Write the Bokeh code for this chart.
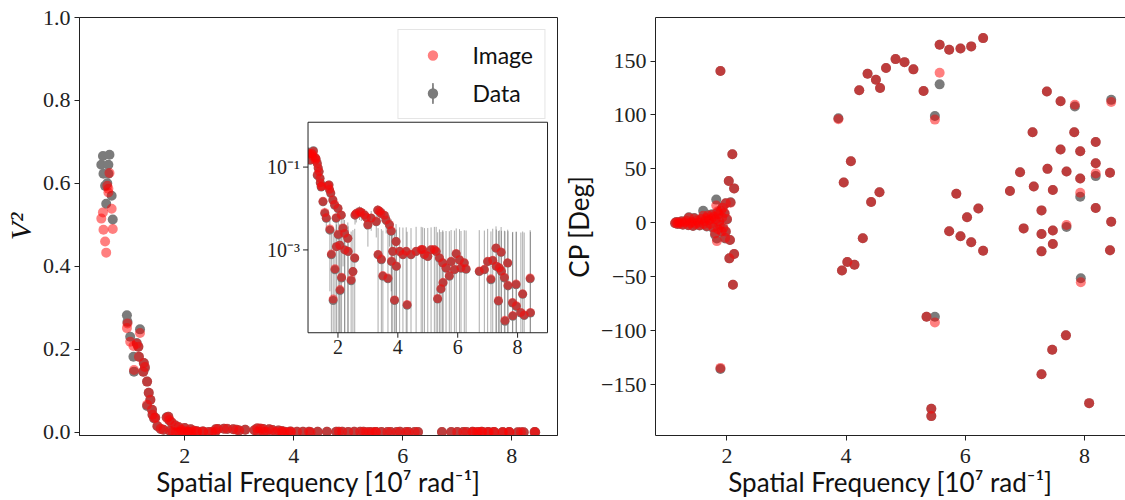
import numpy as np
from bokeh.plotting import figure
from bokeh.models import (Range1d, LogScale, LinearAxis, FixedTicker, PrintfTickFormatter,
                          Legend, LegendItem, ColumnDataSource)
from bokeh.layouts import row
from bokeh.embed import file_html
from bokeh.resources import INLINE
from bokeh.core.properties import value

# ---------------- data: squared visibilities ----------------
vis_x = [
    0.50, 0.62, 0.47, 0.60, 0.51, 0.60, 0.54, 0.66, 0.56, 0.68, 0.58,
    0.94, 0.95, 1.00, 1.06, 1.07, 1.18, 1.15, 1.12, 1.16, 1.25,
    1.27, 1.24, 1.31, 1.34, 1.37, 1.31, 1.40, 1.41, 1.46,
    1.44, 1.50, 1.56, 1.61, 1.67, 1.70, 1.72, 1.73, 1.76, 1.78,
    1.83, 1.84, 1.89, 1.90, 1.94, 1.95, 2.00, 2.01, 2.06, 2.07,
    2.11, 2.12, 2.17, 2.22, 2.23, 2.33, 2.34, 2.44, 2.50, 2.56,
    2.57, 2.61, 2.72, 2.78, 2.89, 2.95, 3.00, 3.11, 3.28, 3.33,
    3.34, 3.39, 3.44, 3.45, 3.50, 3.55, 3.61, 3.67, 3.72, 3.78,
    3.79, 3.83, 3.89, 3.94, 3.95, 4.06, 4.17, 4.28, 4.31, 4.44,
    4.61, 4.78, 4.83, 4.89, 5.00, 5.11, 5.22, 5.28, 5.33, 5.39,
    5.44, 5.50, 5.51, 5.61, 5.72, 5.78, 5.89, 5.95, 6.06, 6.11,
    6.22, 6.28, 6.72, 6.89, 7.00, 7.11, 7.17, 7.28, 7.29, 7.36,
    7.39, 7.45, 7.46, 7.56, 7.58, 7.67, 7.68, 7.83, 7.84, 7.95,
    7.96, 8.11, 8.17, 8.22, 8.42, 8.43,
]
vis_data = [
    0.666, 0.669, 0.645, 0.645, 0.623, 0.623, 0.594, 0.570, 0.551, 0.513, 0.600,
    0.282, 0.266, 0.230, 0.182, 0.146, 0.248, 0.206, 0.215, 0.182, 0.167,
    0.155, 0.146, 0.122, 0.095, 0.078, 0.063, 0.054, 0.042, 0.035,
    0.033, 0.0145, 0.0076, 0.0058, 0.036, 0.037, 0.028, 0.003, 0.023, 0.00076,
    0.016, 6e-5, 0.012, 0.00033, 0.0058, 0.0012, 0.010, 0.0023, 0.0013, 0.000104,
    0.0069, 0.00021, 0.0033, 0.0025, 0.001, 0.0019, 0.00091, 0.00018, 0.0003, 0.00063,
    0.0069, 0.0075, 0.0083, 0.0079, 0.0069, 0.006, 0.004, 0.0058, 0.0048, 0.0091,
    0.00076, 0.0085, 0.0076, 0.00058, 0.00023, 0.0068, 0.0052, 0.0002, 0.004, 0.0028,
    0.00052, 0.00091, 6e-5, 0.0016, 0.0004, 0.00091, 0.00076, 0.00091, 4.6e-5, 0.00076,
    0.00091, 0.001, 0.001, 0.00076, 0.00069, 0.001, 0.001, 0.00091, 6.5e-5, 0.00063,
    0.000113, 0.00048, 0.00016, 0.00036, 0.00023, 0.00052, 0.00033, 0.0008, 0.00057, 0.00036,
    0.00048, 0.00034, 0.0003, 0.00033, 0.00052, 0.00019, 0.00055, 0.0011, 0.0004, 5.8e-5,
    0.00036, 0.00087, 0.0003, 0.00021, 1.9e-5, 0.00048, 0.000135, 5.2e-5, 2.5e-5, 0.000144,
    4.3e-5, 3e-5, 8.5e-5, 2.6e-5, 0.0002, 3e-5,
]
vis_image = [
    0.530, 0.625, 0.515, 0.587, 0.488, 0.578, 0.460, 0.539, 0.433, 0.490, 0.594,
    0.251, 0.262, 0.218, 0.208, 0.150, 0.239, 0.206, 0.213, 0.182, 0.167,
    0.157, 0.146, 0.122, 0.095, 0.078, 0.066, 0.054, 0.042, 0.035,
    0.034, 0.0150, 0.0080, 0.0060, 0.035, 0.037, 0.029, 0.0032, 0.024, 0.0008,
    0.016, 6.5e-5, 0.0125, 0.00035, 0.0060, 0.0012, 0.0102, 0.0024, 0.0013, 0.00011,
    0.0070, 0.00022, 0.0034, 0.0025, 0.0010, 0.0019, 0.00093, 0.00019, 0.0003, 0.00065,
    0.0070, 0.0076, 0.0084, 0.0080, 0.0070, 0.0061, 0.0041, 0.0059, 0.0049, 0.0092,
    0.00078, 0.0086, 0.0077, 0.0006, 0.00024, 0.0069, 0.0053, 0.00021, 0.0041, 0.0029,
    0.00054, 0.00093, 6.2e-5, 0.0016, 0.00041, 0.00093, 0.00078, 0.00093, 4.8e-5, 0.00078,
    0.00093, 0.00102, 0.00102, 0.00078, 0.0007, 0.00102, 0.00102, 0.00093, 6.7e-5, 0.00065,
    0.000116, 0.00049, 0.000165, 0.00037, 0.00024, 0.00053, 0.00034, 0.00082, 0.00058, 0.00037,
    0.00049, 0.00035, 0.00031, 0.00034, 0.00053, 0.0002, 0.00056, 0.00112, 0.00041, 6e-5,
    0.00037, 0.00089, 0.00031, 0.00022, 2e-5, 0.00049, 0.00014, 5.4e-5, 2.6e-5, 0.00015,
    4.5e-5, 3.1e-5, 8.7e-5, 2.7e-5, 0.00021, 3.1e-5,
]
vis_err = [
    0.006, 0.006, 0.005, 0.006, 0.005, 0.005, 0.006, 0.005, 0.005, 0.004, 0.005,
    0.004, 0.004, 0.004, 0.0035, 0.0035, 0.004, 0.0035, 0.0035, 0.0035, 0.0035,
    0.0033, 0.0033, 0.0032, 0.0032, 0.0031, 0.0031, 0.0031, 0.003, 0.003,
    0.0030, 0.0031, 0.0029, 0.0030, 0.0032, 0.0031, 0.0030, 0.0029, 0.0031, 0.0028,
    0.0030, 0.0029, 0.0031, 0.0028, 0.0030, 0.0029, 0.0031, 0.0028, 0.0029, 0.0028,
    0.0030, 0.0028, 0.0029, 0.0028, 0.0027, 0.0027, 0.0028, 0.0026, 0.0027, 0.0026,
    0.0028, 0.0029, 0.0030, 0.0029, 0.0028, 0.0029, 0.0028, 0.0029, 0.0028, 0.0030,
    0.0026, 0.0029, 0.0028, 0.0026, 0.0027, 0.0028, 0.0027, 0.0026, 0.0028, 0.0027,
    0.0026, 0.0027, 0.0027, 0.0026, 0.0027, 0.0026, 0.0027, 0.0026, 0.0027, 0.0026,
    0.0027, 0.0026, 0.0025, 0.0026, 0.0027, 0.0025, 0.0026, 0.0027, 0.0026, 0.0025,
    0.0026, 0.0025, 0.0026, 0.0025, 0.0026, 0.0025, 0.0026, 0.0025, 0.0026, 0.0025,
    0.0025, 0.0026, 0.0027, 0.0026, 0.0027, 0.0026, 0.0027, 0.0026, 0.0027, 0.0028,
    0.0026, 0.0027, 0.0026, 0.0027, 0.0028, 0.0026, 0.0027, 0.0026, 0.0027, 0.0026,
    0.0027, 0.0026, 0.0027, 0.0026, 0.0028, 0.0027,
]

# ---------------- data: closure phases ----------------
cp_x = [
    1.13, 1.15, 1.17, 1.19, 1.21, 1.24, 1.26, 1.29, 1.32, 1.35,
    1.36, 1.38, 1.41, 1.43, 1.45, 1.47, 1.50, 1.52, 1.54, 1.57,
    1.60, 1.61, 1.63, 1.65, 1.66, 1.68, 1.70, 1.72, 1.74, 1.75,
    1.77, 1.78, 1.80, 1.81, 1.82, 1.83, 1.84, 1.85, 1.86, 1.87,
    1.88, 1.89, 1.89, 1.90, 1.91, 1.92, 1.93, 1.94, 1.96, 1.97,
    1.98, 1.98, 2.00, 2.03, 2.04, 2.05, 2.06, 2.09, 2.10, 2.12,
    2.12, 3.87, 3.93, 3.96, 4.02, 4.08, 4.14, 4.22, 4.28, 4.36,
    4.42, 4.50, 4.56, 4.57, 4.67, 4.83, 4.98, 5.13, 5.30, 5.35,
    5.43, 5.43, 5.49, 5.49, 5.57, 5.57, 5.73, 5.73, 5.85, 5.92,
    5.92, 6.03, 6.10, 6.10, 6.22, 6.30, 6.30, 6.75, 6.92, 6.98,
    7.13, 7.15, 7.28, 7.28, 7.28, 7.28, 7.37, 7.38, 7.46, 7.47,
    7.47, 7.47, 7.60, 7.60, 7.69, 7.70, 7.70, 7.83, 7.84, 7.93,
    7.93, 7.93, 7.94, 8.08, 8.19, 8.19, 8.19, 8.19, 8.43, 8.43,
    8.45, 8.45,
]
cp_data = [
    -0.5, 0.8, -1.2, 0.3, -0.8, 1.5, -1.8, 0.4, 2.0, -2.2,
    5.1, -0.6, 1.0, -3.0, 4.5, -1.2, 2.5, 0.5, -2.5, 3.8,
    11.2, -1.5, 1.0, 5.0, -3.5, 7.5, 2.0, -2.0, 3.2, 8.0,
    -5.0, 4.0, -11.0, 2.5, 21.5, -14.5, 9.0, -7.0, 6.0, 0.5,
    -3.0, 140.7, -135.6, 12.0, -9.0, 4.0, 15.0, -5.5, 8.5, -14.5,
    18.0, -8.3, 3.0, 38.7, -33.0, -16.0, 19.0, 63.6, -57.5, 31.9,
    -28.9, 96.9, -44.3, 37.4, -36.3, 57.0, -39.0, 122.9, -14.3, 138.2,
    19.2, 132.7, 28.4, 125.0, 143.5, 151.8, 149.0, 142.3, 122.2, -87.1,
    -172.5, -179.3, -87.1, 99.1, 128.4, 165.1, 160.5, -7.9, 26.9, 161.7,
    -12.5, 5.1, 163.6, -18.0, 13.3, 171.3, -26.0, 29.4, 46.9, -5.2,
    84.0, 33.6, 11.5, -10.4, -26.5, -140.5, 121.8, 50.0, -117.7, 30.4,
    -7.2, -19.6, 112.7, 67.9, -104.4, 47.6, -3.9, 84.0, 107.8, 66.3,
    41.1, 24.2, -51.4, -167.3, 75.0, 55.2, 43.3, 13.7, 46.4, -25.5,
    114.0, 1.0,
]
cp_image = [
    -0.3, 0.6, -1.0, 0.5, -0.6, 1.2, -1.5, 0.2, 1.8, -2.0,
    4.6, -0.4, 0.8, -2.7, 4.0, -1.0, 2.2, 0.3, -2.2, 3.4,
    6.5, -1.1, 1.4, 4.2, -3.0, 6.8, 2.5, -1.2, 4.0, 7.2,
    -4.2, 5.5, -10.0, 3.0, 16.0, -17.0, 10.5, -6.0, 8.0, 1.5,
    -2.0, 140.7, -134.6, 11.0, -8.0, 5.0, 14.0, -4.5, 9.0, -14.0,
    18.0, -8.0, 3.5, 38.7, -33.0, -16.0, 18.5, 63.6, -57.5, 31.9,
    -28.9, 96.0, -44.3, 37.4, -36.3, 57.0, -39.0, 122.9, -14.3, 138.2,
    19.2, 132.7, 28.4, 125.0, 143.5, 151.8, 149.0, 142.3, 122.2, -87.1,
    -172.5, -179.3, -92.4, 95.7, 139.2, 165.1, 160.5, -7.9, 26.9, 161.7,
    -12.5, 5.1, 163.6, -18.0, 13.3, 171.3, -26.0, 29.4, 46.9, -5.2,
    84.0, 33.6, 11.5, -10.4, -26.5, -140.5, 121.8, 50.0, -117.7, 30.4,
    -7.2, -19.6, 112.7, 67.9, -104.4, 47.6, -2.0, 84.0, 109.5, 66.3,
    41.1, 27.8, -55.1, -167.3, 75.0, 55.2, 45.8, 13.7, 46.4, -25.5,
    112.0, 1.0,
]

assert len(vis_x) == len(vis_data) == len(vis_image) == len(vis_err)
assert len(cp_x) == len(cp_data) == len(cp_image)

# ticks / labels
x_ticks = [2, 4, 6, 8]
v2_ticks = [0.0, 0.2, 0.4, 0.6, 0.8, 1.0]
cp_ticks = [-150, -100, -50, 0, 50, 100, 150]
inset_x_ticks = [2, 4, 6, 8]
inset_y_ticks = [1e-1, 1e-3]
inset_y_labels = ["10\u207b\u00b9", "10\u207b\u00b3"]
x_label = "Spatial Frequency [10\u2077 rad\u207b\u00b9]"

# ---------------- style ----------------
SERIF = "Liberation Serif, serif"
SANS = "Lato"
RED = "#ff0000"
GRAY = "#7b7b7b"
INK = "#222222"
H = 500
LW, RW = 560, 565
TOP, BOT = 17, 64
L_LEFT, L_RIGHT = 78, 3
R_LEFT, R_RIGHT = 93, 0


def style_axis(ax):
    ax.axis_line_color = INK
    ax.axis_line_width = 1
    ax.major_tick_line_color = INK
    ax.major_tick_out = 5
    ax.major_tick_in = 0
    ax.minor_tick_line_color = None
    ax.major_label_text_font = SERIF
    ax.major_label_text_font_size = "22px"
    ax.major_label_text_color = INK
    ax.major_label_standoff = 4
    ax.axis_label_text_font = SANS
    ax.axis_label_text_font_size = "26px"
    ax.axis_label_text_font_style = "normal"
    ax.axis_label_text_color = "#111111"
    ax.axis_label_standoff = 3


def base_fig(width, xr, yr, left, right):
    p = figure(width=width, height=H, x_range=Range1d(*xr), y_range=Range1d(*yr),
               output_backend="svg", toolbar_location=None,
               min_border_left=left, min_border_right=right,
               min_border_top=TOP, min_border_bottom=BOT)
    p.xgrid.visible = False
    p.ygrid.visible = False
    p.background_fill_color = "white"
    p.border_fill_color = "white"
    style_axis(p.xaxis[0])
    style_axis(p.yaxis[0])
    p.xaxis.ticker = FixedTicker(ticks=x_ticks)
    p.xaxis.axis_label = x_label
    p.xaxis.major_label_standoff = 8
    p.xaxis.axis_label_standoff = 0
    return p


# ---------------- left panel: V^2 ----------------
p1 = base_fig(LW, (0.07, 8.84), (-0.008, 1.0), L_LEFT, L_RIGHT)
p1.outline_line_color = INK
p1.outline_line_width = 1
p1.yaxis.ticker = FixedTicker(ticks=v2_ticks)
p1.yaxis.formatter = PrintfTickFormatter(format="%.1f")
p1.yaxis.axis_label = "V\u00b2"
p1.yaxis.axis_label_text_font = SERIF
p1.yaxis.axis_label_text_font_style = "italic"
p1.yaxis.axis_label_text_font_size = "30px"

vx = np.array(vis_x)
vd = np.array(vis_data)
vm = np.array(vis_image)
ve = np.array(vis_err)

src = ColumnDataSource(dict(x=vx, d=vd, m=vm, lo=vd - ve, hi=vd + ve))
p1.segment(x0="x", y0="lo", x1="x", y1="hi", source=src, line_color=GRAY, line_alpha=0.5)
gray_r = p1.scatter("x", "d", source=src, size=10, fill_color=GRAY, line_color=None)
red_r = p1.scatter("x", "m", source=src, size=10, fill_color=RED, fill_alpha=0.5, line_color=None)

# ---- inset (log scale) drawn on extra ranges of the left figure ----
FL, FR, FT, FB = L_LEFT, LW - L_RIGHT, TOP, H - BOT      # frame in px
IL, IR, IT, IB = 307, 547, 122, 333                      # inset box in px
INSET_XLIM = (1.0, 9.0)
INSET_YLIM = (1e-5, 1.21)
ppx = (IR - IL) / (INSET_XLIM[1] - INSET_XLIM[0])
ly0, ly1 = np.log10(INSET_YLIM[0]), np.log10(INSET_YLIM[1])
ppd = (IB - IT) / (ly1 - ly0)
p1.extra_x_ranges = {"ix": Range1d(INSET_XLIM[0] - (IL - FL) / ppx, INSET_XLIM[1] + (FR - IR) / ppx)}
p1.extra_y_ranges = {"iy": Range1d(10 ** (ly0 - (FB - IB) / ppd), 10 ** (ly1 + (IT - FT) / ppd))}
p1.extra_y_scales = {"iy": LogScale()}
IK = dict(x_range_name="ix", y_range_name="iy")

# inset background
p1.quad(left=[INSET_XLIM[0]], right=[INSET_XLIM[1]], bottom=[INSET_YLIM[0]], top=[INSET_YLIM[1]],
        fill_color="white", line_color=None, **IK)

mask = vx >= INSET_XLIM[0]
isrc = ColumnDataSource(dict(
    x=vx[mask], d=vd[mask], m=vm[mask],
    lo=np.maximum(vd[mask] - ve[mask], INSET_YLIM[0]),
    hi=np.minimum(vd[mask] + ve[mask], INSET_YLIM[1])))
p1.segment(x0="x", y0="lo", x1="x", y1="hi", source=isrc, line_color="#666666", line_alpha=0.55,
           line_width=1, **IK)
p1.scatter("x", "d", source=isrc, size=9, fill_color=GRAY, line_color=None, **IK)
p1.scatter("x", "m", source=isrc, size=9, fill_color=RED, fill_alpha=0.5, line_color=None, **IK)

# clip the markers at the inset's left edge (white margin), then the inset frame on top
clip_w = 6 / ppx
p1.quad(left=[INSET_XLIM[0] - clip_w], right=[INSET_XLIM[0]], bottom=[INSET_YLIM[0]],
        top=[INSET_YLIM[1]], fill_color="white", line_color=None, **IK)
p1.quad(left=[INSET_XLIM[0]], right=[INSET_XLIM[1]], bottom=[INSET_YLIM[0]], top=[INSET_YLIM[1]],
        fill_color=None, line_color=INK, line_width=1, **IK)

tick_len = 5
ybot_tick = INSET_YLIM[0] / 10 ** (tick_len / ppd)
xleft_tick = INSET_XLIM[0] - tick_len / ppx
p1.segment(x0=inset_x_ticks, y0=[INSET_YLIM[0]] * len(inset_x_ticks), x1=inset_x_ticks,
           y1=[ybot_tick] * len(inset_x_ticks), line_color=INK, **IK)
p1.segment(x0=[INSET_XLIM[0]] * len(inset_y_ticks), y0=inset_y_ticks,
           x1=[xleft_tick] * len(inset_y_ticks), y1=inset_y_ticks, line_color=INK, **IK)
p1.text(x=inset_x_ticks, y=[ybot_tick] * len(inset_x_ticks), text=[str(t) for t in inset_x_ticks],
        text_align="center", text_baseline="top", y_offset=2, text_font=value(SERIF),
        text_font_size="20px", text_color=INK, **IK)
p1.text(x=[xleft_tick] * len(inset_y_ticks), y=inset_y_ticks, text=inset_y_labels,
        text_align="right", text_baseline="middle", x_offset=-3, text_font=value(SERIF),
        text_font_size="20px", text_color=INK, **IK)

# legend ("Data" entry: vertical error-bar line drawn by a thin ellipse placed off-range)
bar_r = p1.ellipse(x=[-100.0], y=[-100.0], width=1.2, height=30,
                   width_units="screen", height_units="screen",
                   fill_color=GRAY, line_color=GRAY, line_width=1)
legend = Legend(items=[LegendItem(label="Image", renderers=[red_r]),
                       LegendItem(label="Data", renderers=[bar_r, gray_r])],
                location="top_right", margin=12, padding=11, spacing=10,
                glyph_width=46, glyph_height=26, label_height=26, label_standoff=17,
                label_text_font=SANS, label_text_font_size="23px", label_text_color="#111111",
                border_line_color="#cccccc", border_line_width=1,
                background_fill_color="white", background_fill_alpha=0.85)
p1.add_layout(legend)

# ---------------- right panel: closure phase ----------------
p2 = base_fig(RW, (0.80, 8.69), (-197.3, 190.4), R_LEFT, R_RIGHT)
p2.outline_line_color = None
p2.yaxis.ticker = FixedTicker(ticks=cp_ticks)
p2.yaxis.major_label_overrides = {t: (str(t).replace("-", "\u2212")) for t in cp_ticks}
p2.yaxis.axis_label = "CP [Deg]"
top_axis = LinearAxis(ticker=FixedTicker(ticks=[]), axis_line_color=INK,
                      major_tick_line_color=None, minor_tick_line_color=None,
                      major_label_text_font_size="0px")
p2.add_layout(top_axis, "above")

csrc = ColumnDataSource(dict(x=cp_x, d=cp_data, m=cp_image))
p2.scatter("x", "d", source=csrc, size=10, fill_color=GRAY, line_color=None)
p2.scatter("x", "m", source=csrc, size=10, fill_color=RED, fill_alpha=0.5, line_color=None)

layout = row(p1, p2)
open("out.html", "w").write(file_html(layout, INLINE))
